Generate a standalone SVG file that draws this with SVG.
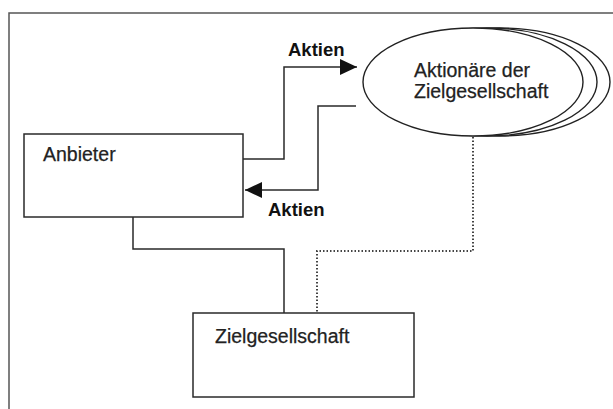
<svg xmlns="http://www.w3.org/2000/svg" width="613" height="409" viewBox="0 0 613 409">
  <style>
    .frame { fill: none; stroke: #555; stroke-width: 1.5; }
    .box { fill: #fff; stroke: #2a2a2a; stroke-width: 1.5; }
    .ell { fill: #fff; stroke: #222; stroke-width: 1.4; }
    .wire { fill: none; stroke: #2a2a2a; stroke-width: 1.5; }
    .dots { fill: none; stroke: #444; stroke-width: 2; stroke-dasharray: 1.5 2; }
    .label { font-family: "Liberation Sans", Arial, sans-serif; font-size: 19.5px; fill: #222; stroke: #222; stroke-width: 0.25; }
    .flow { font-family: "Liberation Sans", Arial, sans-serif; font-size: 18.5px; font-weight: bold; fill: #111; }
  </style>
  <defs>
    <marker id="head" markerUnits="userSpaceOnUse" markerWidth="18" markerHeight="16" viewBox="0 0 18 16" refX="17" refY="8" orient="auto">
      <path d="M0,0 L17,8 L0,16 Z" fill="#111"/>
    </marker>
  </defs>

  <rect width="613" height="409" fill="#fff"/>

  <!-- outer frame, open to the right and bottom -->
  <path class="frame" d="M613,13 L9,13 L9,409"/>

  <!-- connectors -->
  <g id="connectors">
    <path class="wire" d="M243,159 L284,159 L284,67 L357,67" marker-end="url(#head)"/>
    <path class="wire" d="M356,106 L318,106 L318,190 L245,190" marker-end="url(#head)"/>
    <path class="wire" d="M133,217 L133,249 L284,249 L284,313"/>
    <path class="dots" d="M473,137 L473,251 L317,251 L317,313"/>
    <text class="flow" x="288" y="56">Aktien</text>
    <text class="flow" x="268" y="216">Aktien</text>
  </g>

  <g id="aktionaere">
    <ellipse class="ell" cx="500" cy="82" rx="110" ry="54"/>
    <ellipse class="ell" cx="487" cy="82" rx="110" ry="54"/>
    <ellipse class="ell" cx="473" cy="82" rx="110" ry="54"/>
    <text class="label" x="414" y="77">Aktionäre der</text>
    <text class="label" x="414" y="98">Zielgesellschaft</text>
  </g>

  <g id="anbieter">
    <rect class="box" x="24" y="134" width="219" height="83"/>
    <text class="label" x="43" y="161">Anbieter</text>
  </g>

  <g id="zielgesellschaft">
    <rect class="box" x="193" y="313" width="221" height="84"/>
    <text class="label" x="215" y="343">Zielgesellschaft</text>
  </g>
</svg>
